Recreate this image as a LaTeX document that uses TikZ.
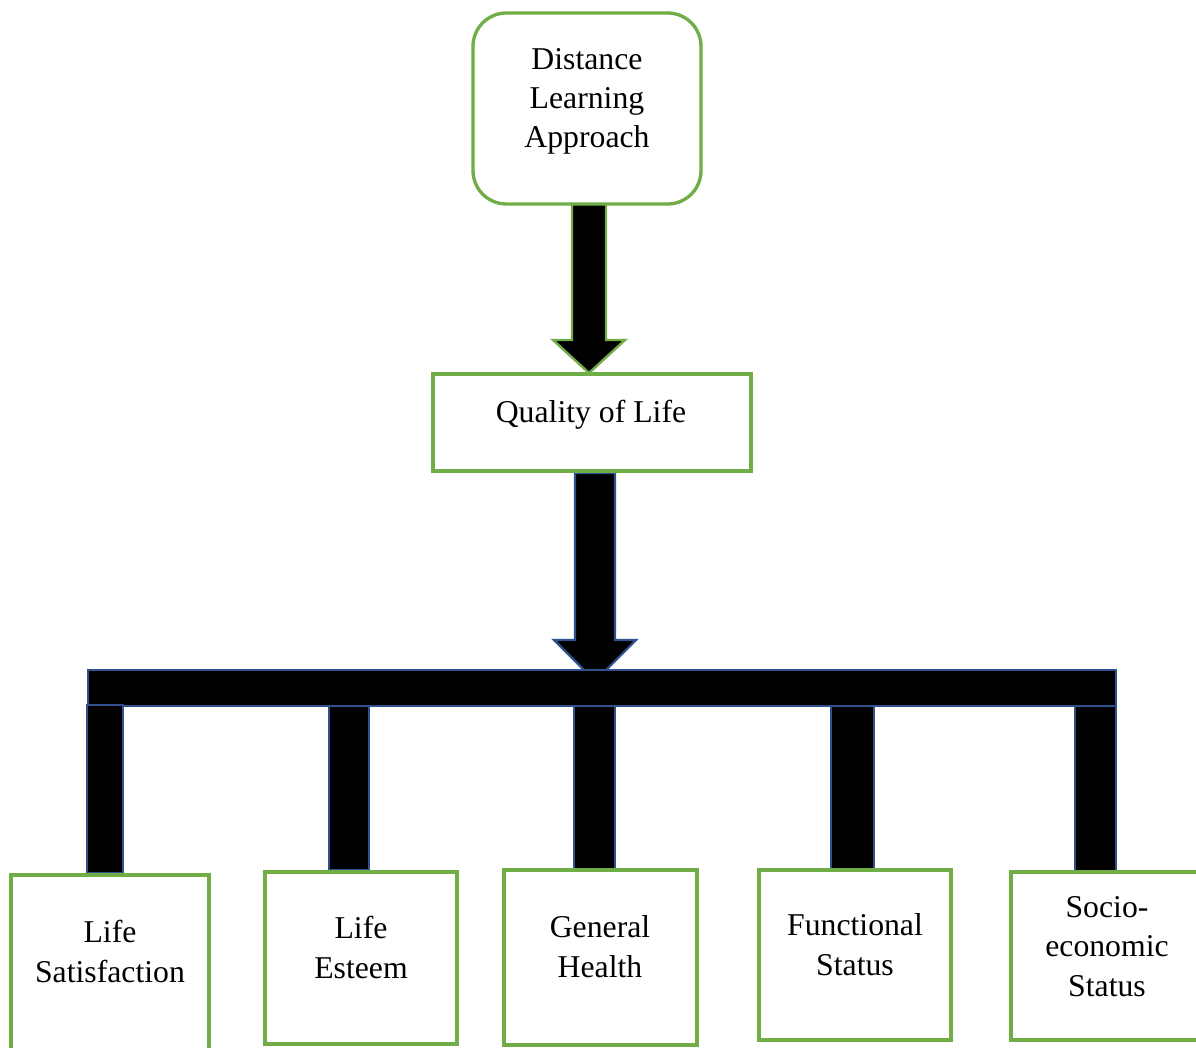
\documentclass[tikz,border=0pt]{standalone}
\usepackage{fontspec}
\setmainfont{Liberation Serif}
\usetikzlibrary{fit}
\definecolor{boxgreen}{HTML}{70AD47}
\definecolor{arrblue}{HTML}{2F528F}
\tikzset{
  gbox/.style={draw=boxgreen, line width=2.5pt, inner sep=0pt, fill=white},
  lbl/.style={font=\fontsize{23.8}{29.6}\selectfont, align=center, anchor=base, inner sep=0pt},
  garrow/.style={fill=black, draw=boxgreen, line width=1.8pt, line join=miter},
  barrow/.style={fill=black, draw=arrblue, line width=1.6pt, line join=miter},
}
\begin{document}
\begin{tikzpicture}[x=0.75pt,y=-0.75pt]
\useasboundingbox (0,0) rectangle (1196,1048);
% block arrows
\draw[garrow] (572,204) -- (572,340) -- (553,340) -- (589,373) -- (625,340) -- (606,340) -- (606,204) -- cycle;
\draw[barrow] (575,473) -- (575,640) -- (554,640) -- (595,681) -- (636,640) -- (615,640) -- (615,473) -- cycle;
\draw[barrow] (88,670) rectangle (1116,706);
\draw[barrow] (87,705) rectangle (123,873);
\draw[barrow] (329,706) rectangle (369,870);
\draw[barrow] (574,706) rectangle (615,869);
\draw[barrow] (831,706) rectangle (874,869);
\draw[barrow] (1075,706) rectangle (1116,872);
% boxes
\node[gbox, rounded corners=25pt, fit={(473,13)(701,204)}] (dla) {};
\node[gbox, fit={(433,374)(751,471)}] (qol) {};
\node[gbox, fit={(11,875)(209,1060)}] (b1) {};
\node[gbox, fit={(265,872)(457,1044)}] (b2) {};
\node[gbox, fit={(504,870)(697,1045)}] (b3) {};
\node[gbox, fit={(759,870)(951,1040)}] (b4) {};
\node[gbox, fit={(1011,872)(1210,1040)}] (b5) {};
% labels (base anchor = baseline of the last line)
\node[lbl] (tdla) at (587,148) {Distance\\Learning\\Approach};
\node[lbl] (tqol) at (591,423) {Quality of Life};
\node[lbl] (t1) at (110,982) {Life\\Satisfaction};
\node[lbl] (t2) at (361,978) {Life\\Esteem};
\node[lbl] (t3) at (600,977) {General\\Health};
\node[lbl] (t4) at (855,975) {Functional\\Status};
\node[lbl] (t5) at (1107,996) {Socio-\\economic\\Status};
\end{tikzpicture}
\end{document}
